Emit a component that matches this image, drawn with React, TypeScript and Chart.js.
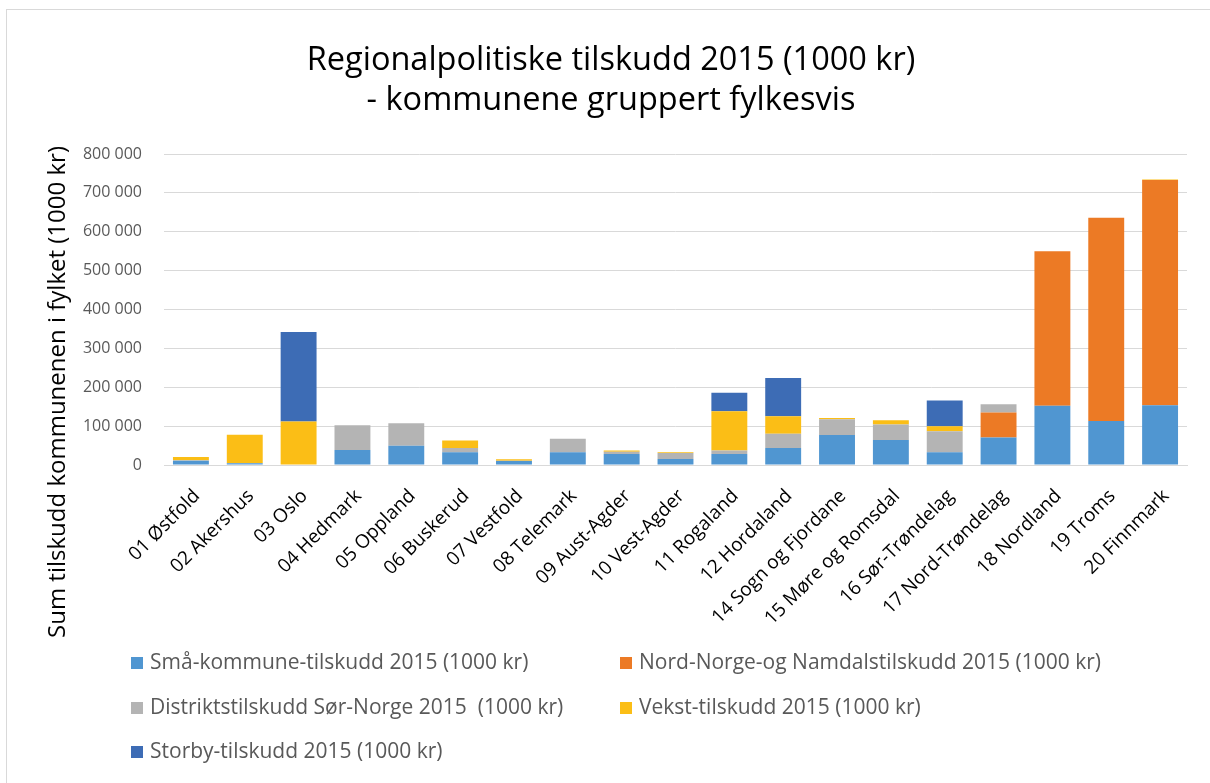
import React, { useEffect, useRef } from "react";
import { Chart, registerables } from "chart.js";

Chart.register(...registerables);

const TITLE_LINES = [
  "Regionalpolitiske tilskudd 2015 (1000 kr)",
  "- kommunene gruppert fylkesvis",
];
const Y_TITLE = "Sum tilskudd kommunenen i fylket (1000 kr)";

const categories = [
  "01 Østfold",
  "02 Akershus",
  "03 Oslo",
  "04 Hedmark",
  "05 Oppland",
  "06 Buskerud",
  "07 Vestfold",
  "08 Telemark",
  "09 Aust-Agder",
  "10 Vest-Agder",
  "11 Rogaland",
  "12 Hordaland",
  "14 Sogn og Fjordane",
  "15 Møre og Romsdal",
  "16 Sør-Trøndelag",
  "17 Nord-Trøndelag",
  "18 Nordland",
  "19 Troms",
  "20 Finnmark",
];

const seriesNames = [
  "Små-kommune-tilskudd 2015 (1000 kr)",
  "Nord-Norge-og Namdalstilskudd 2015 (1000 kr)",
  "Distriktstilskudd Sør-Norge 2015  (1000 kr)",
  "Vekst-tilskudd 2015 (1000 kr)",
  "Storby-tilskudd 2015 (1000 kr)",
];

const smaKommune = [11000, 4500, 0, 38600, 49700, 32600, 10000, 32600, 28000, 15400, 28000, 43700, 77000, 64000, 32600, 71000, 152500, 113000, 154000];
const nordNorge = [0, 0, 0, 0, 0, 0, 0, 0, 0, 0, 0, 0, 0, 0, 0, 64000, 397500, 523000, 579000];
const distrikt = [1000, 500, 0, 63500, 57500, 11000, 1000, 35000, 6000, 15500, 9000, 37000, 41000, 40500, 54500, 21500, 0, 0, 0];
const vekst = [8500, 73000, 112000, 0, 0, 19700, 3500, 0, 3500, 2000, 101000, 44500, 3000, 10500, 12500, 0, 0, 0, 1500];
const storby = [0, 0, 230000, 0, 0, 0, 0, 0, 0, 0, 48000, 98500, 0, 0, 66000, 0, 0, 0, 0];

const yTicks = [0, 100000, 200000, 300000, 400000, 500000, 600000, 700000, 800000];

const COLORS = ["#5096D1", "#EC7A25", "#B4B4B4", "#FBBE16", "#3D6CB5"];
const FONT = "'Open Sans', sans-serif";

const fmt = (v: number) => String(v).replace(/\B(?=(\d{3})+(?!\d))/g, " ");

const decor = {
  id: "decor",
  beforeDraw(chart: any) {
    const ctx = chart.ctx;
    ctx.save();
    ctx.fillStyle = "#ffffff";
    ctx.fillRect(0, 0, chart.width, chart.height);
    ctx.strokeStyle = "#D9D9D9";
    ctx.lineWidth = 1;
    ctx.strokeRect(6.5, 9.5, chart.width + 20, chart.height + 20);
    ctx.restore();
  },
  afterDraw(chart: any) {
    const ctx = chart.ctx;
    ctx.save();
    // title
    ctx.fillStyle = "#000000";
    ctx.font = `32.5px ${FONT}`;
    ctx.textAlign = "center";
    ctx.textBaseline = "alphabetic";
    ctx.fillText(TITLE_LINES[0], 611, 70);
    ctx.fillText(TITLE_LINES[1], 611, 110);
    // y title
    ctx.save();
    ctx.translate(58, 392);
    ctx.rotate(-Math.PI / 2);
    ctx.font = `24px ${FONT}`;
    ctx.textAlign = "center";
    ctx.textBaseline = "middle";
    ctx.fillText(Y_TITLE, 0, 0);
    ctx.restore();
    // legend
    const colX = [131, 620];
    const rowY = [663, 708, 752];
    ctx.font = `21px ${FONT}`;
    ctx.textAlign = "left";
    ctx.textBaseline = "middle";
    chart.data.datasets.forEach((ds: any, i: number) => {
      const x = colX[i % 2];
      const y = rowY[Math.floor(i / 2)];
      ctx.fillStyle = ds.backgroundColor;
      ctx.fillRect(x, y - 6, 12, 12);
      ctx.fillStyle = "#595959";
      ctx.fillText(ds.label, x + 19, y);
    });
    ctx.restore();
  },
};

export default function App() {
  const ref = useRef<HTMLCanvasElement>(null);
  useEffect(() => {
    if (!ref.current) return;
    const seriesData = [smaKommune, nordNorge, distrikt, vekst, storby];
    const chart = new Chart(ref.current, {
      type: "bar",
      data: {
        labels: categories,
        datasets: seriesNames.map((name, i) => ({
          label: name,
          data: seriesData[i],
          backgroundColor: COLORS[i],
          borderWidth: 0,
          categoryPercentage: 1,
          barPercentage: 0.667,
        })),
      },
      options: {
        responsive: false,
        animation: false,
        layout: { padding: { top: 154, right: 23, left: 0, bottom: 0 } },
        plugins: {
          legend: { display: false },
          title: { display: false },
          tooltip: { enabled: false },
        },
        scales: {
          x: {
            stacked: true,
            grid: { display: false, drawTicks: false },
            border: { display: true, color: "#D9D9D9" },
            ticks: {
              autoSkip: false,
              maxRotation: 45,
              minRotation: 45,
              padding: 20,
              labelOffset: 6,
              color: "#000000",
              font: { family: FONT, size: 19 },
            },
            afterFit: (scale: any) => {
              scale.height = 318;
            },
          },
          y: {
            stacked: true,
            min: 0,
            max: 800000,
            afterBuildTicks: (scale: any) => {
              scale.ticks = yTicks.map((v) => ({ value: v }));
            },
            grid: { color: "#D9D9D9", drawTicks: false },
            border: { display: false },
            ticks: {
              padding: 22,
              color: "#595959",
              font: { family: FONT, size: 16 },
              callback: (v: any) => fmt(Number(v)),
            },
            afterFit: (scale: any) => {
              scale.width = 164;
            },
          },
        },
      },
      plugins: [decor],
    });
    return () => chart.destroy();
  }, []);
  return (
    <div style={{ position: "fixed", left: 0, top: 0, width: 1210, height: 783 }}>
      <canvas ref={ref} width={1210} height={783} style={{ display: "block" }} />
    </div>
  );
}
